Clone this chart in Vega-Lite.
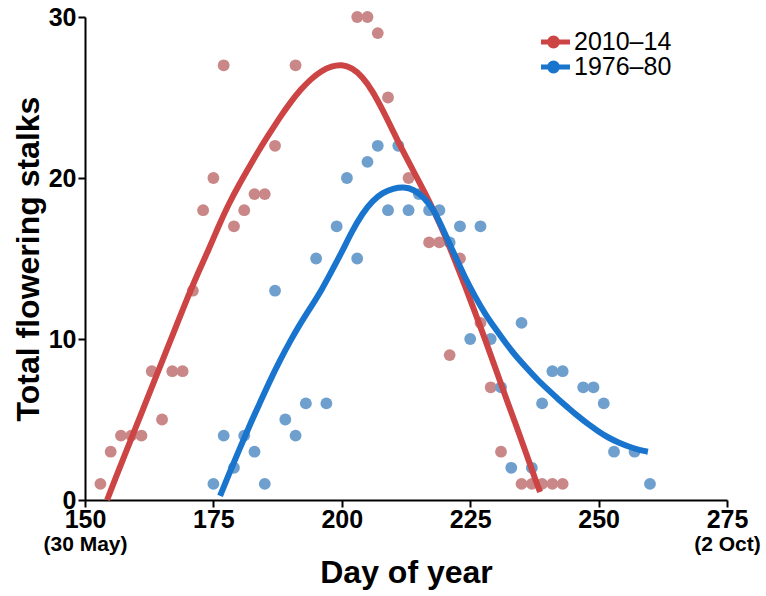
{
  "$schema": "https://vega.github.io/schema/vega-lite/v6.json",
  "width": 642,
  "height": 483,
  "autosize": {"type": "none"},
  "padding": {"left": 85, "top": 17, "right": 39, "bottom": 96},
  "background": "white",
  "config": {
    "view": {"stroke": null},
    "font": "Liberation Sans",
    "axis": {"grid": false, "domainColor": "black", "tickColor": "black", "labelColor": "black", "titleColor": "black", "domainWidth": 2, "tickWidth": 2, "labelFont": "Liberation Sans", "titleFont": "Liberation Sans"},
    "legend": {"labelFont": "Liberation Sans"}
  },
  "datasets": {
    "obs": [
      {"period": "2010–14", "day": 153, "stalks": 1},
      {"period": "2010–14", "day": 155, "stalks": 3},
      {"period": "2010–14", "day": 157, "stalks": 4},
      {"period": "2010–14", "day": 159, "stalks": 4},
      {"period": "2010–14", "day": 161, "stalks": 4},
      {"period": "2010–14", "day": 163, "stalks": 8},
      {"period": "2010–14", "day": 165, "stalks": 5},
      {"period": "2010–14", "day": 167, "stalks": 8},
      {"period": "2010–14", "day": 169, "stalks": 8},
      {"period": "2010–14", "day": 171, "stalks": 13},
      {"period": "2010–14", "day": 173, "stalks": 18},
      {"period": "2010–14", "day": 175, "stalks": 20},
      {"period": "2010–14", "day": 177, "stalks": 27},
      {"period": "2010–14", "day": 179, "stalks": 17},
      {"period": "2010–14", "day": 181, "stalks": 18},
      {"period": "2010–14", "day": 183, "stalks": 19},
      {"period": "2010–14", "day": 185, "stalks": 19},
      {"period": "2010–14", "day": 187, "stalks": 22},
      {"period": "2010–14", "day": 191, "stalks": 27},
      {"period": "2010–14", "day": 203, "stalks": 30},
      {"period": "2010–14", "day": 205, "stalks": 30},
      {"period": "2010–14", "day": 207, "stalks": 29},
      {"period": "2010–14", "day": 209, "stalks": 25},
      {"period": "2010–14", "day": 213, "stalks": 20},
      {"period": "2010–14", "day": 217, "stalks": 16},
      {"period": "2010–14", "day": 219, "stalks": 16},
      {"period": "2010–14", "day": 221, "stalks": 9},
      {"period": "2010–14", "day": 223, "stalks": 15},
      {"period": "2010–14", "day": 227, "stalks": 11},
      {"period": "2010–14", "day": 229, "stalks": 7},
      {"period": "2010–14", "day": 231, "stalks": 3},
      {"period": "2010–14", "day": 235, "stalks": 1},
      {"period": "2010–14", "day": 237, "stalks": 1},
      {"period": "2010–14", "day": 239, "stalks": 1},
      {"period": "2010–14", "day": 241, "stalks": 1},
      {"period": "2010–14", "day": 243, "stalks": 1},
      {"period": "1976–80", "day": 175, "stalks": 1},
      {"period": "1976–80", "day": 177, "stalks": 4},
      {"period": "1976–80", "day": 179, "stalks": 2},
      {"period": "1976–80", "day": 181, "stalks": 4},
      {"period": "1976–80", "day": 183, "stalks": 3},
      {"period": "1976–80", "day": 185, "stalks": 1},
      {"period": "1976–80", "day": 187, "stalks": 13},
      {"period": "1976–80", "day": 189, "stalks": 5},
      {"period": "1976–80", "day": 191, "stalks": 4},
      {"period": "1976–80", "day": 193, "stalks": 6},
      {"period": "1976–80", "day": 195, "stalks": 15},
      {"period": "1976–80", "day": 197, "stalks": 6},
      {"period": "1976–80", "day": 199, "stalks": 17},
      {"period": "1976–80", "day": 201, "stalks": 20},
      {"period": "1976–80", "day": 203, "stalks": 15},
      {"period": "1976–80", "day": 205, "stalks": 21},
      {"period": "1976–80", "day": 207, "stalks": 22},
      {"period": "1976–80", "day": 209, "stalks": 18},
      {"period": "1976–80", "day": 211, "stalks": 22},
      {"period": "1976–80", "day": 213, "stalks": 18},
      {"period": "1976–80", "day": 215, "stalks": 19},
      {"period": "1976–80", "day": 217, "stalks": 18},
      {"period": "1976–80", "day": 219, "stalks": 18},
      {"period": "1976–80", "day": 221, "stalks": 16},
      {"period": "1976–80", "day": 223, "stalks": 17},
      {"period": "1976–80", "day": 225, "stalks": 10},
      {"period": "1976–80", "day": 227, "stalks": 17},
      {"period": "1976–80", "day": 229, "stalks": 10},
      {"period": "1976–80", "day": 231, "stalks": 7},
      {"period": "1976–80", "day": 233, "stalks": 2},
      {"period": "1976–80", "day": 235, "stalks": 11},
      {"period": "1976–80", "day": 237, "stalks": 2},
      {"period": "1976–80", "day": 239, "stalks": 6},
      {"period": "1976–80", "day": 241, "stalks": 8},
      {"period": "1976–80", "day": 243, "stalks": 8},
      {"period": "1976–80", "day": 247, "stalks": 7},
      {"period": "1976–80", "day": 249, "stalks": 7},
      {"period": "1976–80", "day": 251, "stalks": 6},
      {"period": "1976–80", "day": 253, "stalks": 3},
      {"period": "1976–80", "day": 257, "stalks": 3},
      {"period": "1976–80", "day": 260, "stalks": 1}
    ],
    "fit": [
      {"period": "2010–14", "day": 154.3, "stalks": 0},
      {"period": "2010–14", "day": 156, "stalks": 1.4},
      {"period": "2010–14", "day": 158, "stalks": 3.0},
      {"period": "2010–14", "day": 160, "stalks": 4.6},
      {"period": "2010–14", "day": 162, "stalks": 6.2},
      {"period": "2010–14", "day": 164, "stalks": 7.8},
      {"period": "2010–14", "day": 166, "stalks": 9.4},
      {"period": "2010–14", "day": 168, "stalks": 11.0},
      {"period": "2010–14", "day": 170, "stalks": 12.6},
      {"period": "2010–14", "day": 172, "stalks": 14.1},
      {"period": "2010–14", "day": 174, "stalks": 15.5},
      {"period": "2010–14", "day": 176, "stalks": 17.0},
      {"period": "2010–14", "day": 178, "stalks": 18.4},
      {"period": "2010–14", "day": 180, "stalks": 19.6},
      {"period": "2010–14", "day": 182, "stalks": 20.7},
      {"period": "2010–14", "day": 184, "stalks": 21.8},
      {"period": "2010–14", "day": 186, "stalks": 22.8},
      {"period": "2010–14", "day": 188, "stalks": 23.8},
      {"period": "2010–14", "day": 190, "stalks": 24.7},
      {"period": "2010–14", "day": 192, "stalks": 25.5},
      {"period": "2010–14", "day": 194, "stalks": 26.15},
      {"period": "2010–14", "day": 196, "stalks": 26.65},
      {"period": "2010–14", "day": 198, "stalks": 26.95},
      {"period": "2010–14", "day": 200, "stalks": 27.05},
      {"period": "2010–14", "day": 202, "stalks": 26.85},
      {"period": "2010–14", "day": 204, "stalks": 26.3},
      {"period": "2010–14", "day": 206, "stalks": 25.4},
      {"period": "2010–14", "day": 208, "stalks": 24.2},
      {"period": "2010–14", "day": 210, "stalks": 22.9},
      {"period": "2010–14", "day": 212, "stalks": 21.6},
      {"period": "2010–14", "day": 214, "stalks": 20.4},
      {"period": "2010–14", "day": 216, "stalks": 19.2},
      {"period": "2010–14", "day": 218, "stalks": 17.9},
      {"period": "2010–14", "day": 220, "stalks": 16.5},
      {"period": "2010–14", "day": 222, "stalks": 14.9},
      {"period": "2010–14", "day": 224, "stalks": 13.3},
      {"period": "2010–14", "day": 226, "stalks": 11.6},
      {"period": "2010–14", "day": 228, "stalks": 9.9},
      {"period": "2010–14", "day": 230, "stalks": 8.1},
      {"period": "2010–14", "day": 232, "stalks": 6.3},
      {"period": "2010–14", "day": 234, "stalks": 4.6},
      {"period": "2010–14", "day": 236, "stalks": 2.8},
      {"period": "2010–14", "day": 238, "stalks": 1.0},
      {"period": "2010–14", "day": 238.6, "stalks": 0.5},
      {"period": "1976–80", "day": 176.3, "stalks": 0.25},
      {"period": "1976–80", "day": 178, "stalks": 1.6},
      {"period": "1976–80", "day": 180, "stalks": 3.1},
      {"period": "1976–80", "day": 182, "stalks": 4.6},
      {"period": "1976–80", "day": 184, "stalks": 6.0},
      {"period": "1976–80", "day": 186, "stalks": 7.4},
      {"period": "1976–80", "day": 188, "stalks": 8.7},
      {"period": "1976–80", "day": 190, "stalks": 9.9},
      {"period": "1976–80", "day": 192, "stalks": 11.0},
      {"period": "1976–80", "day": 194, "stalks": 12.0},
      {"period": "1976–80", "day": 196, "stalks": 13.0},
      {"period": "1976–80", "day": 198, "stalks": 14.2},
      {"period": "1976–80", "day": 200, "stalks": 15.4},
      {"period": "1976–80", "day": 202, "stalks": 16.7},
      {"period": "1976–80", "day": 204, "stalks": 17.8},
      {"period": "1976–80", "day": 206, "stalks": 18.6},
      {"period": "1976–80", "day": 208, "stalks": 19.1},
      {"period": "1976–80", "day": 210, "stalks": 19.35},
      {"period": "1976–80", "day": 212, "stalks": 19.45},
      {"period": "1976–80", "day": 214, "stalks": 19.3},
      {"period": "1976–80", "day": 216, "stalks": 18.8},
      {"period": "1976–80", "day": 218, "stalks": 18.0},
      {"period": "1976–80", "day": 220, "stalks": 16.6},
      {"period": "1976–80", "day": 222, "stalks": 15.2},
      {"period": "1976–80", "day": 224, "stalks": 13.8},
      {"period": "1976–80", "day": 226, "stalks": 12.6},
      {"period": "1976–80", "day": 228, "stalks": 11.5},
      {"period": "1976–80", "day": 230, "stalks": 10.6},
      {"period": "1976–80", "day": 232, "stalks": 9.7},
      {"period": "1976–80", "day": 234, "stalks": 8.9},
      {"period": "1976–80", "day": 236, "stalks": 8.2},
      {"period": "1976–80", "day": 238, "stalks": 7.5},
      {"period": "1976–80", "day": 240, "stalks": 6.9},
      {"period": "1976–80", "day": 242, "stalks": 6.3},
      {"period": "1976–80", "day": 244, "stalks": 5.75},
      {"period": "1976–80", "day": 246, "stalks": 5.2},
      {"period": "1976–80", "day": 248, "stalks": 4.7},
      {"period": "1976–80", "day": 250, "stalks": 4.25},
      {"period": "1976–80", "day": 252, "stalks": 3.85},
      {"period": "1976–80", "day": 254, "stalks": 3.55},
      {"period": "1976–80", "day": 256, "stalks": 3.3},
      {"period": "1976–80", "day": 258, "stalks": 3.1},
      {"period": "1976–80", "day": 259.6, "stalks": 3.0}
    ]
  },
  "layer": [
    {
      "data": {"name": "obs"},
      "mark": {"type": "circle", "size": 140, "opacity": 1},
      "encoding": {
        "x": {"field": "day", "type": "quantitative", "scale": {"domain": [150, 275], "nice": false, "zero": false},
          "axis": {"orient": "bottom", "values": [150, 175, 200, 225, 250, 275], "title": null, "labelFontSize": 25, "labelFontWeight": "bold", "tickSize": 7, "labelPadding": 0, "labelFlush": false, "labelOverlap": false}},
        "y": {"field": "stalks", "type": "quantitative", "scale": {"domain": [0, 30], "nice": false},
          "axis": {"values": [0, 10, 20, 30], "title": "Total flowering stalks", "titleFontSize": 32, "titleFontWeight": "bold", "labelFontSize": 25, "labelFontWeight": "bold", "tickSize": 7, "labelPadding": 2, "titlePadding": 3}},
        "color": {"field": "period", "type": "nominal", "scale": {"domain": ["2010–14", "1976–80"], "range": ["#CA8787", "#6F9FCD"]}, "legend": null}
      }
    },
    {
      "data": {"name": "fit"},
      "mark": {"type": "line", "strokeWidth": 6, "interpolate": "basis"},
      "encoding": {
        "x": {"field": "day", "type": "quantitative",
          "axis": {"orient": "bottom", "offset": 31, "values": [150, 275], "labelExpr": "datum.value == 150 ? '(30 May)' : '(2 Oct)'", "domain": false, "ticks": false, "labelFontSize": 21, "labelFontWeight": "bold", "labelPadding": 2, "labelFlush": false, "labelOverlap": false, "title": "Day of year", "titleFontSize": 32, "titleFontWeight": "bold", "titlePadding": 3}},
        "y": {"field": "stalks", "type": "quantitative"},
        "color": {"field": "period", "type": "nominal", "scale": {"domain": ["2010–14", "1976–80"], "range": ["#CC4444", "#1874CD"]},
          "legend": {"title": null, "orient": "none", "legendX": 456, "legendY": 18, "padding": 0, "labelFontSize": 25, "labelColor": "black", "symbolType": "M-2.75,0H2.75M0.667,0A0.667,0.667,0,1,1,-0.667,0A0.667,0.667,0,1,1,0.667,0M0.25,0A0.25,0.25,0,1,1,-0.25,0A0.25,0.25,0,1,1,0.25,0", "symbolSize": 144, "symbolStrokeWidth": 5, "labelOffset": 8, "rowPadding": 0, "clipHeight": 14}}
      }
    }
  ],
  "resolve": {"scale": {"color": "independent"}, "axis": {"x": "independent"}}
}
